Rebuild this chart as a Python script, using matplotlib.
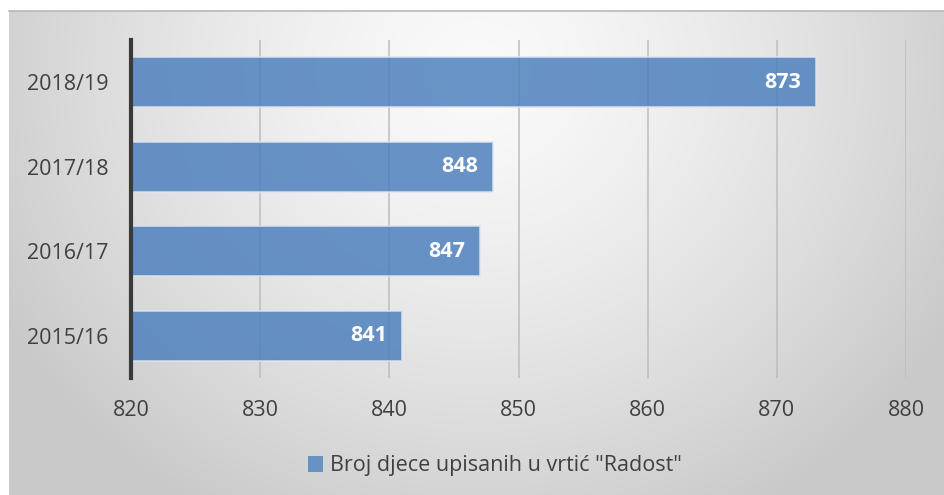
import numpy as np
import matplotlib
matplotlib.use("Agg")
import matplotlib.pyplot as plt
from matplotlib.patches import Patch

categories = ["2015/16", "2016/17", "2017/18", "2018/19"]
values = [841, 847, 848, 873]
xticks = [820, 830, 840, 850, 860, 870, 880]
series_name = 'Broj djece upisanih u vrtić "Radost"'

plt.rcParams['font.family'] = ['Open Sans', 'DejaVu Sans']

W, H = 944, 495
fig = plt.figure(figsize=(W / 100, H / 100), dpi=100)
fig.patch.set_facecolor('white')

# radial gradient background
bg = fig.add_axes([9 / W, 0, (W - 9) / W, (H - 11) / H], zorder=-10)
ny, nx = 200, 400
yy, xx = np.mgrid[0:ny, 0:nx]
cx, cy = nx * 0.50, ny * 0.12
d = np.sqrt(((xx - cx) / (nx * 0.58)) ** 2 + ((yy - cy) / (ny * 1.05)) ** 2)
d = np.clip(d, 0, 1)
c = 0.98 - (0.98 - 0.79) * d ** 1.4
img = np.dstack([c, c, c])
bg.imshow(img, aspect='auto', extent=[0, 1, 0, 1], origin='upper')
bg.set_axis_off()
fig.add_artist(plt.Line2D([9 / W, 1], [1 - 11 / H, 1 - 11 / H], color='#b8b8b8', lw=1.2,
                          transform=fig.transFigure))

ax = fig.add_axes([131 / W, 1 - 378 / H, (906 - 131) / W, (378 - 40) / H])
ax.set_facecolor('none')
y = np.arange(len(categories))
bars = ax.barh(y, values, left=0, height=0.59, color='#4F81BD', alpha=0.85,
               edgecolor='#dde6f2', linewidth=1.2, zorder=3)
ax.set_xlim(820, 880)
ax.set_ylim(-0.5, len(categories) - 0.5)
ax.set_yticks(y)
ax.set_yticklabels(categories)
ax.set_xticks(xticks)
ax.tick_params(axis='both', length=0, labelsize=15.5, colors='#404040')
ax.tick_params(axis='x', pad=16)
ax.tick_params(axis='y', pad=16)
ax.grid(axis='x', color='#bdbdbd', lw=1.1, zorder=0)
for s in ['top', 'right', 'bottom']:
    ax.spines[s].set_visible(False)
ax.spines['left'].set_color('#3a3a3a')
ax.spines['left'].set_linewidth(3)
ax.spines['left'].set_zorder(5)

for yi, v in zip(y, values):
    ax.text(v - 1.15, yi, f"{v}", ha='right', va='center', color='white',
            fontsize=15.5, fontweight='bold', zorder=6)

handle = Patch(facecolor='#6792C6', edgecolor='none')
fig.legend([handle], [series_name], loc='center', bbox_to_anchor=(495 / W, 1 - 466 / H),
           frameon=False, fontsize=15.5, labelcolor='#404040', handlelength=0.7,
           handleheight=0.7, handletextpad=0.3)

fig.savefig('out.png', dpi=100)
